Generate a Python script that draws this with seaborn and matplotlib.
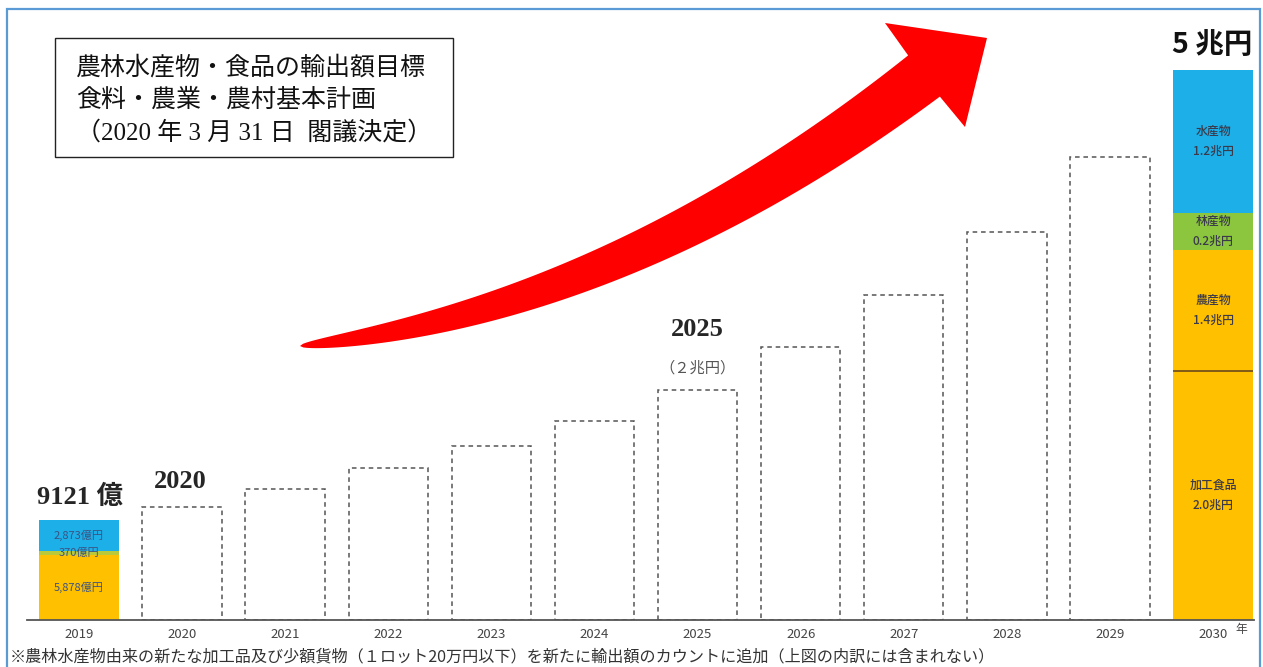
import numpy as np
import pandas as pd
import matplotlib
matplotlib.use('Agg')
import matplotlib.pyplot as plt
from matplotlib.patches import Rectangle, Polygon
import seaborn as sns

# データ（単位：億円）
years = ['2019', '2020', '2021', '2022', '2023', '2024', '2025',
         '2026', '2027', '2028', '2029', '2030']
target_years = years[1:11]
target_totals = [10300, 11900, 13800, 15800, 18100, 20900, 24800, 29500, 35300, 42100]

# 2019 実績の内訳（下から：加工食品等, 林産物, 水産物）
seg_2019 = [5878, 370, 2873]
seg_2019_labels = ['5,878億円', '370億円', '2,873億円']
seg_2019_colors = ['#FFC000', '#B9C93A', '#1DAFE8']

# 2030 目標の内訳（下から：加工食品, 農産物, 林産物, 水産物）※図上の高さ
seg_2030 = [22640, 11000, 3360, 13000]
seg_2030_labels = ['加工食品\n2.0兆円', '農産物\n1.4兆円', '林産物\n0.2兆円', '水産物\n1.2兆円']
seg_2030_colors = ['#FFC000', '#FFC000', '#8CC63F', '#1DAFE8']

footnote = ('※農林水産物由来の新たな加工品及び少額貨物（１ロット20万円以下）'
            'を新たに輸出額のカウントに追加（上図の内訳には含まれない）')

sns.set_theme(style='white')
plt.rcParams['font.family'] = ['Noto Sans CJK JP', 'DejaVu Sans']
serif = ['Liberation Serif', 'Noto Sans CJK JP']

W, H = 1263, 667
fig = plt.figure(figsize=(W / 100, H / 100), dpi=100)
fig.patch.set_facecolor('white')
ax = fig.add_axes([27.45 / W, 1 - 620 / H, (1254.3 - 27.45) / W, 550 / H])

# 目標の点線バー
df = pd.DataFrame({'year': target_years, 'total': target_totals})
sns.barplot(data=df, x='year', y='total', order=years, fill=False,
            width=0.77, errorbar=None, color='#555555', edgecolor='#555555',
            linestyle=(0, (3, 2.5)), linewidth=1.1, ax=ax)

bw = 0.77
# 2019 積み上げ
i19 = years.index('2019')
bottom = 0
for v, lab, c in zip(seg_2019, seg_2019_labels, seg_2019_colors):
    ax.bar(i19, v, bottom=bottom, width=bw, color=c, linewidth=0, zorder=2)
    ax.text(i19, bottom + v / 2, lab, ha='center', va='center',
            fontsize=8.0, color='#3a5282', zorder=3)
    bottom += v

# 2030 積み上げ
i30 = years.index('2030')
bottom = 0
for k, (v, lab, c) in enumerate(zip(seg_2030, seg_2030_labels, seg_2030_colors)):
    ax.bar(i30, v, bottom=bottom, width=bw, color=c, linewidth=0, zorder=2)
    ax.text(i30, bottom + v / 2, lab, ha='center', va='center',
            fontsize=8.6, fontweight='medium', color='#3a3a4a',
            linespacing=1.75, zorder=3)
    bottom += v
    if k == 0:
        ax.hlines(bottom, i30 - bw / 2, i30 + bw / 2, color='#6b4a1a', lw=1.2, zorder=3)

ax.set_ylim(0, 50000)
ax.set_xlim(-0.5, 11.4)
ax.set_xlabel('')
ax.set_ylabel('')
ax.set_yticks([])
for s in ['left', 'top', 'right']:
    ax.spines[s].set_visible(False)
ax.spines['bottom'].set_color('#555555')
ax.spines['bottom'].set_linewidth(1.3)
ax.tick_params(axis='x', length=0, pad=6, labelsize=9.5, labelcolor='#444444')
ax.patch.set_alpha(0)


def px(x, y):
    return x / W, 1 - y / H


# 注記
fig.text(*px(80, 497), '9121 億', ha='center', va='center', fontsize=19,
         fontweight='bold', family=serif)
fig.text(*px(180, 481), '2020', ha='center', va='center', fontsize=19,
         fontweight='bold', family=serif)
fig.text(*px(697, 330), '2025', ha='center', va='center', fontsize=19,
         fontweight='bold', family=serif)
fig.text(*px(697, 368), '（２兆円）', ha='center', va='center', fontsize=11,
         color='#555555')
fig.text(*px(1212, 45), '5 兆円', ha='center', va='center', fontsize=20.5,
         fontweight='bold', color='#111111')
fig.text(*px(1241, 629), '年', ha='center', va='center', fontsize=8.5, color='#444444')
fig.text(*px(10, 657), footnote, ha='left', va='center', fontsize=11.6, color='#333333')

# タイトルボックス
fig.add_artist(Rectangle(px(55, 157), 398 / W, 119 / H, fill=False,
                         ec='#222222', lw=1.0, transform=fig.transFigure))
box_lines = ['農林水産物・食品の輸出額目標', '食料・農業・農村基本計画',
             '（2020 年 3 月 31 日  閣議決定）']
for j, line in enumerate(box_lines):
    fig.text(*px(76, 68 + 32.5 * j), line, ha='left', va='center',
             fontsize=18, color='#111111', family=serif)

# 赤い矢印
P0 = np.array([300.0, 346.0])
P1 = np.array([620.0, 310.0])
P2 = np.array([924.0, 76.0])
t = np.linspace(0, 1, 200)[:, None]
pts = (1 - t) ** 2 * P0 + 2 * (1 - t) * t * P1 + t ** 2 * P2
d = 2 * (1 - t) * (P1 - P0) + 2 * t * (P2 - P1)
d = d / np.linalg.norm(d, axis=1, keepdims=True)
n = np.column_stack([d[:, 1], -d[:, 0]])
hw = 26 * t[:, 0] ** 0.5
upper = pts + n * hw[:, None]
lower = pts - n * hw[:, None]
head = np.array([[885, 23], [987, 38], [965, 127]])
poly = np.vstack([upper, head, lower[::-1]])
poly_fig = np.column_stack([poly[:, 0] / W, 1 - poly[:, 1] / H])
fig.add_artist(Polygon(poly_fig, closed=True, fc='#FF0000', ec='none',
                       transform=fig.transFigure, zorder=5))

# 外枠
fig.add_artist(Rectangle(px(7, 700), 1253 / W, 691 / H, fill=False,
                         ec='#5B9BD5', lw=1.6, transform=fig.transFigure,
                         clip_on=False))

fig.savefig('out.png', dpi=100, facecolor='white')
